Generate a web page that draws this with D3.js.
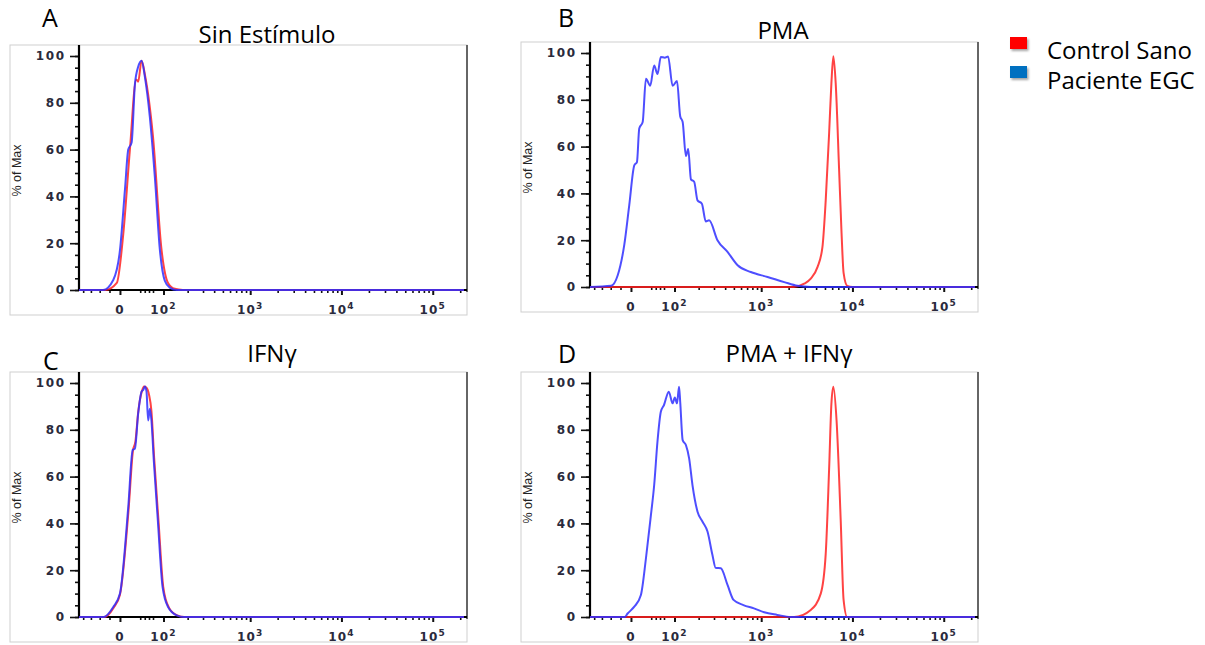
<!DOCTYPE html>
<html>
<head>
<meta charset="utf-8">
<script src="https://cdn.jsdelivr.net/npm/d3@7"></script>
<style>
  body { margin: 0; background: #fff; }
  .tick line { stroke: #111; }
</style>
</head>
<body>
<div id="chart"></div>
<script>
// ---- data ----
const panelLetters = ["A", "B", "C", "D"];
const panelTitles = ["Sin Estímulo", "PMA", "IFNγ", "PMA + IFNγ"];
const seriesNames = ["Control Sano", "Paciente EGC"];
const seriesColors = ["#ff2222", "#2f2fff"];
const legendColors = ["#ff0000", "#0070c0"];

const yTicks = [0, 20, 40, 60, 80, 100];
const xTickValues = [0, 100, 1000, 10000, 100000];
const xTickBase = ["0", "10", "10", "10", "10"];
const xTickExp = ["", "2", "3", "4", "5"];
const xMinorTicks = [-80, -60, -40, -20, 40, 50, 60, 70,
  200, 300, 400, 500, 600, 700, 800, 900,
  2000, 3000, 4000, 5000, 6000, 7000, 8000, 9000,
  20000, 30000, 40000, 50000, 60000, 70000, 80000, 90000, 200000];
const xMin = -92, xMax = 220000;

// [fluorescence, % of Max]
const controlA = [[-92,0],[-28,0],[-6,3],[6.3,24],[19,60],[31.7,90],[35.7,89],[43,98],[50.4,92],[70,65.5],[94,17],[115,3],[140,0.5],[175,0],[220000,0]];
const pacienteA = [[-92,0],[-33,0],[-12.7,4.3],[0,17],[9.5,43],[15.8,60],[22.4,63],[29,88],[35.7,95.4],[43,98],[50.4,91],[62,74],[75,48],[89,17],[104,4],[121,1],[148,0],[220000,0]];

const controlB = [[-92,0],[2280,0],[2960,1.4],[3495,3.6],[4140,8.5],[4690,17],[5096,37],[5550,65.5],[5880,87],[6180,98.6],[6557,87],[7130,51],[7600,23],[8000,6],[8760,0.5],[10000,0],[220000,0]];
const pacienteB = [[-92,0],[-39,0.5],[-25.5,5],[-12.7,18],[-3.2,35],[6.3,52],[11.4,53.4],[15.8,67.7],[22.5,70.5],[29,89],[37.8,86],[46.5,94.7],[54,91],[62,98.3],[72,98],[81,98.5],[94,86],[108,88],[119,73],[128,70.5],[140.5,56],[150,59],[162,46],[177,45],[194,37],[218,35.6],[242,28],[264,28.5],[328,20],[425,15],[550,9.3],[769,6.4],[1175,4.3],[1790,2.1],[2500,0.5],[3500,0],[220000,0]];

const controlC = [[-92,0],[-30,0],[-12,4],[0,9.5],[16.5,46],[25,71],[30,75],[36,88],[43,96],[48,98.5],[54,98],[60,95],[66,88],[73,68],[85,41],[99,13],[118,4],[150,0.7],[185,0],[220000,0]];
const pacienteC = [[-92,0],[-32,0],[-12.7,4.3],[0,10],[15.8,47],[24.5,71.4],[29,72],[35.7,87],[43,96.4],[46.5,97],[50.4,98.5],[54,96.4],[58,84],[62,89],[66,84],[72,67],[83,41.4],[97,12.9],[115,4.3],[148,0.7],[180,0],[220000,0]];

const controlD = [[-92,0],[2300,0],[3495,3],[4496,10],[5096,27],[5550,63],[5880,91],[6180,98.4],[6700,84],[7436,41.5],[8000,7.3],[8760,0],[220000,0]];
const pacienteD = [[-92,0],[-12,0],[-6.3,1.5],[6.3,4.4],[19,9.4],[29,25],[39.4,43.6],[46.5,56.4],[54,75],[62,87.7],[70,90.6],[83,96.3],[94,91.3],[101,93.8],[108,91.3],[115,98.4],[119,92],[128,75.6],[140.5,73.5],[154,67.8],[169,56.4],[194,45],[222,40.7],[253,36.5],[288,26.5],[313,21],[358,20.8],[425,13.7],[496,7.3],[637,5.1],[833,3.7],[1080,2],[1500,0.9],[2111,0],[220000,0]];

const panelSeries = [
  [controlA, pacienteA],
  [controlB, pacienteB],
  [controlC, pacienteC],
  [controlD, pacienteD]
];

// ---- layout ----
const plotW = 388, plotH = 245, yTop = 104.7;
const panels = [
  {left: 79,  top: 45,  tx: 267, ty: 43,  lx: 42,  ly: 27},
  {left: 590, top: 42,  tx: 783, ty: 39,  lx: 558, ly: 27},
  {left: 79,  top: 372, tx: 272, ty: 362, lx: 43,  ly: 370},
  {left: 590, top: 372, tx: 789, ty: 362, lx: 558, ly: 363}
];

// biexponential-like display transform
const tr = v => Math.asinh(v / 75) / Math.LN10;

function makeXScale(width) {
  const lin = d3.scaleLinear().domain([tr(xMin), tr(xMax)]).range([0, width]);
  const s = v => lin(tr(v));
  s.range = () => lin.range();
  s.copy = () => makeXScale(width);
  return s;
}

const svg = d3.select("#chart").append("svg")
  .attr("width", 1205)
  .attr("height", 645);

const defs = svg.append("defs");
defs.append("filter").attr("id", "shadow")
  .attr("x", "-50%").attr("y", "-50%").attr("width", "200%").attr("height", "200%")
  .append("feDropShadow")
  .attr("dx", 1.5).attr("dy", 2).attr("stdDeviation", 1.2)
  .attr("flood-color", "#000").attr("flood-opacity", 0.35);

const x = makeXScale(385);
const y = d3.scaleLinear().domain([0, yTop]).range([plotH, 0]);

panels.forEach((p, i) => {
  // outer frame of the exported plot
  svg.append("rect")
    .attr("x", p.left - 69).attr("y", p.top)
    .attr("width", plotW + 69).attr("height", plotH + 25)
    .attr("fill", "none").attr("stroke", "#cfcfcf").attr("stroke-width", 1);

  // panel letter and title
  svg.append("text")
    .attr("x", p.lx).attr("y", p.ly)
    .attr("font-family", "Open Sans").attr("font-size", 25)
    .attr("fill", "#000")
    .text(panelLetters[i]);
  svg.append("text")
    .attr("x", p.tx).attr("y", p.ty)
    .attr("text-anchor", "middle")
    .attr("font-family", "Open Sans").attr("font-size", 24)
    .attr("fill", "#000")
    .text(panelTitles[i]);

  const g = svg.append("g").attr("transform", `translate(${p.left},${p.top})`);

  // right border of plot area
  g.append("line")
    .attr("x1", plotW).attr("x2", plotW)
    .attr("y1", 0).attr("y2", plotH + 2)
    .attr("stroke", "#666").attr("stroke-width", 2);

  // y axis minor ticks
  g.append("g")
    .call(d3.axisLeft(y).tickValues(d3.range(0, 101, 5)).tickSize(4).tickSizeOuter(0).tickFormat(""))
    .call(a => a.select(".domain").remove())
    .selectAll("line").attr("stroke-width", 1.6);

  // y axis major ticks and labels
  const ya = g.append("g")
    .call(d3.axisLeft(y).tickValues(yTicks).tickSize(9).tickSizeOuter(0).tickPadding(6));
  ya.select(".domain").remove();
  ya.selectAll("line").attr("stroke-width", 1.6);
  ya.selectAll("text")
    .attr("font-family", "DejaVu Sans").attr("font-weight", "bold")
    .attr("font-size", 12).attr("letter-spacing", 1.6)
    .attr("fill", "#2a2a3c").attr("dx", 1.6);

  // x axis minor ticks
  g.append("g")
    .attr("transform", `translate(0,${plotH})`)
    .call(d3.axisBottom(x).tickValues(xMinorTicks).tickSize(3).tickSizeOuter(0).tickFormat(""))
    .call(a => a.select(".domain").remove())
    .selectAll("line").attr("stroke-width", 1.6);

  // x axis major ticks
  const xa = g.append("g")
    .attr("transform", `translate(0,${plotH})`)
    .call(d3.axisBottom(x).tickValues(xTickValues).tickSize(5).tickSizeOuter(0).tickFormat(""));
  xa.select(".domain").remove();
  xa.selectAll("line").attr("stroke-width", 2);

  const xl = g.append("g").selectAll("text")
    .data(xTickValues)
    .join("text")
    .attr("x", d => x(d))
    .attr("y", plotH + 24)
    .attr("text-anchor", "middle")
    .attr("font-family", "DejaVu Sans").attr("font-weight", "bold")
    .attr("font-size", 12).attr("letter-spacing", 1.2)
    .attr("fill", "#2a2a3c");
  xl.append("tspan").text((d, j) => xTickBase[j]);
  xl.append("tspan")
    .attr("dy", -5).attr("font-size", 9)
    .text((d, j) => xTickExp[j]);

  // axis lines
  g.append("line")
    .attr("x1", 0).attr("x2", 0).attr("y1", 0).attr("y2", plotH + 1)
    .attr("stroke", "#000").attr("stroke-width", 2.2);
  g.append("line")
    .attr("x1", 0).attr("x2", plotW).attr("y1", plotH).attr("y2", plotH)
    .attr("stroke", "#000").attr("stroke-width", 2.2);

  // y axis title
  g.append("text")
    .attr("transform", `translate(-58,${plotH / 2 + 3}) rotate(-90)`)
    .attr("text-anchor", "middle")
    .attr("font-family", "Liberation Sans").attr("font-size", 12.5)
    .attr("fill", "#222")
    .text("% of Max");

  // histograms
  const line = d3.line()
    .x(d => x(d[0]))
    .y(d => y(d[1]))
    .curve(d3.curveMonotoneX);

  panelSeries[i].forEach((s, k) => {
    g.append("path")
      .datum(s)
      .attr("d", line)
      .attr("fill", "none")
      .attr("stroke", seriesColors[k])
      .attr("stroke-width", 2)
      .attr("stroke-opacity", 0.85)
      .attr("stroke-linejoin", "round");
  });
});

// legend
const legend = svg.append("g").attr("transform", "translate(1010,37)");
seriesNames.forEach((name, k) => {
  legend.append("rect")
    .attr("x", 0).attr("y", k * 29)
    .attr("width", 17).attr("height", 12)
    .attr("fill", legendColors[k])
    .attr("filter", "url(#shadow)");
  legend.append("text")
    .attr("x", 37).attr("y", k * 30 + 21.5)
    .attr("font-family", "Open Sans").attr("font-size", 24)
    .attr("fill", "#000")
    .text(name);
});
</script>
</body>
</html>
